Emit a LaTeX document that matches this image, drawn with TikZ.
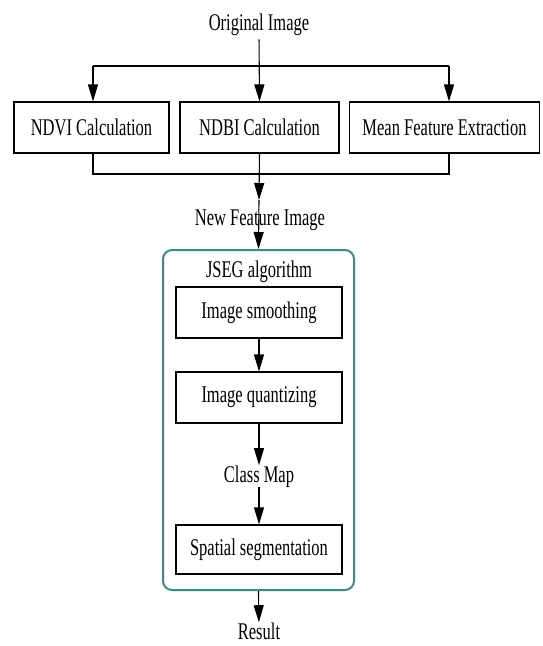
\documentclass[tikz,border=0pt]{standalone}
\usepackage{graphicx}
\usepackage{fontspec}
\setmainfont{Liberation Serif}
\usetikzlibrary{arrows.meta}
\newcommand{\vs}[1]{\scalebox{1}[1.45]{#1}}
\definecolor{tealc}{RGB}{62,138,136}
\begin{document}
\begin{tikzpicture}[x=1pt,y=-1pt,
 lbl/.style={font=\fontsize{16.5}{18}\selectfont, inner sep=0pt, anchor=base},
 box/.style={draw, line width=1.1pt, font=\fontsize{16.5}{18}\selectfont, inner sep=0pt, minimum height=51pt},
 arr/.style={line width=1.1pt, -{Triangle[length=17pt,width=10pt]}},
 ln/.style={line width=1.1pt}]
\useasboundingbox (0,0) rectangle (542,646);
% top
\node[lbl] (orig) at (259,30) {\vs{Original Image}};
\node[box, minimum width=155pt] (ndvi) at (91.5,127.5) {\vs{NDVI Calculation}};
\node[box, minimum width=159pt] (ndbi) at (259.5,127.5) {\vs{NDBI Calculation}};
\node[box, minimum width=190pt] (mean) at (444.5,127.5) {\vs{Mean Feature Extraction}};
\coordinate (b1) at (93,66);
\coordinate (b3) at (449,66);
\coordinate (d1) at (93,174);
\coordinate (d3) at (449,174);
\coordinate (nf) at (259,200);
\draw[ln] (b1) -- (b3);
\draw[arr, shorten <=4pt] (orig.south) -- (ndbi.north);
\draw[arr] (b1) -- (b1 |- ndvi.north);
\draw[arr] (b3) -- (b3 |- mean.north);
\draw[ln] (d1 |- ndvi.south) -- (d1) -- (d3) -- (d3 |- mean.south);
\draw[arr] (ndbi.south) -- (nf);
% JSEG block
\node[draw=tealc, line width=2pt, rounded corners=9pt, minimum width=191pt, minimum height=340pt] (jseg) at (258.5,420) {};
\draw[arr] (nf) -- (jseg.north);
\node[lbl] (nfi) at (260,225) {\vs{New Feature Image}};
\node[lbl] (jlab) at (259,277) {\vs{JSEG algorithm}};
\node[box, minimum width=166pt] (smooth) at (259,312.5) {\vs{Image smoothing}};
\node[box, minimum width=166pt] (quant) at (259,397.5) {\vs{Image quantizing}};
\node[lbl] (cmap) at (259,482) {\vs{Class Map}};
\node[box, minimum width=166pt, minimum height=49pt] (spatial) at (259,549.5) {\vs{Spatial segmentation}};
\draw[arr] (smooth) -- (quant);
\draw[arr] (quant) -- (cmap);
\draw[arr] (cmap) -- (spatial);
\node[lbl] (result) at (259,639) {\vs{Result}};
\draw[arr] (jseg.south) -- (result);
\end{tikzpicture}
\end{document}
